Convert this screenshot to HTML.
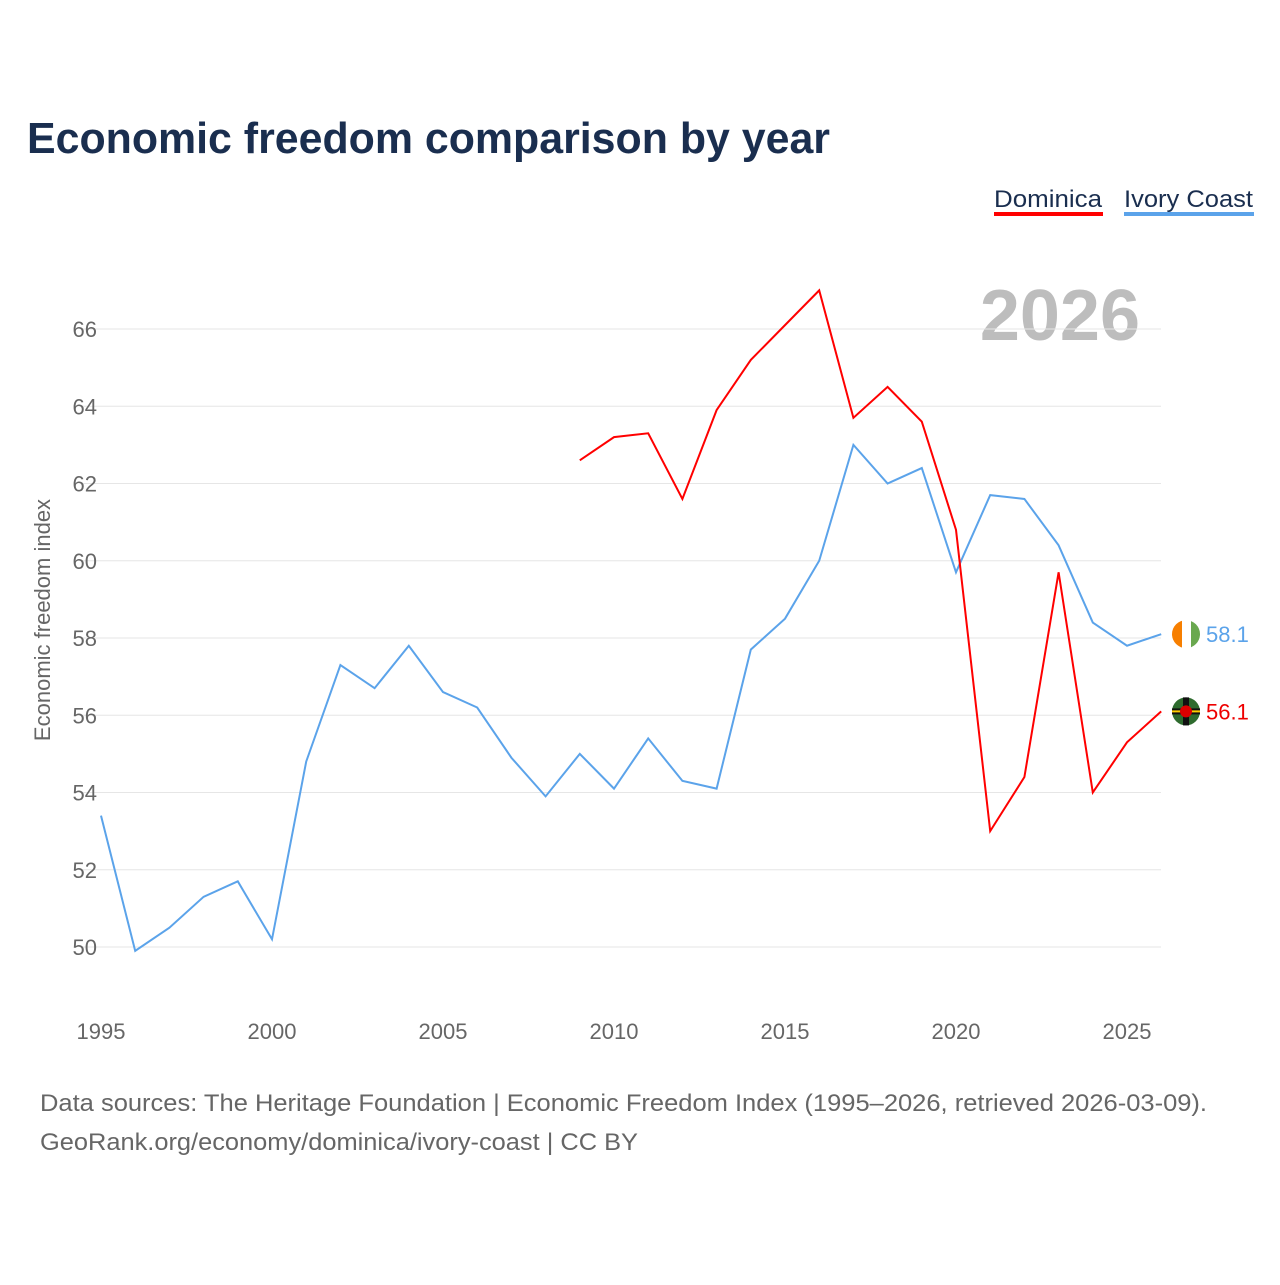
<!DOCTYPE html>
<html><head><meta charset="utf-8"><style>
body{margin:0;background:#fff;font-family:"Liberation Sans",sans-serif}
</style></head><body>
<svg width="1280" height="1280" viewBox="0 0 1280 1280" xmlns="http://www.w3.org/2000/svg">
<text x="27" y="153" font-size="44" font-weight="bold" fill="#1a2e4f" textLength="803" lengthAdjust="spacingAndGlyphs">Economic freedom comparison by year</text>
<g>
<text x="994" y="207" font-size="24" fill="#1a2e4f" textLength="108" lengthAdjust="spacingAndGlyphs">Dominica</text>
<rect x="994" y="212" width="109" height="4" fill="#f00"/>
<text x="1124" y="207" font-size="24" fill="#1a2e4f" textLength="129" lengthAdjust="spacingAndGlyphs">Ivory Coast</text>
<rect x="1124" y="212" width="130" height="4" fill="#5ba3ea"/>
</g>
<text x="1140" y="340" font-size="72" font-weight="bold" fill="#bdbdbd" text-anchor="end">2026</text>
<text transform="translate(50,620) rotate(-90)" font-size="22" fill="#666" text-anchor="middle">Economic freedom index</text>
<g id="grid"></g><g id="lines"></g>
<text x="40" y="1111" font-size="24" fill="#666" textLength="1167" lengthAdjust="spacingAndGlyphs">Data sources: The Heritage Foundation | Economic Freedom Index (1995–2026, retrieved 2026-03-09).</text>
<text x="40" y="1150" font-size="24" fill="#666" textLength="598" lengthAdjust="spacingAndGlyphs">GeoRank.org/economy/dominica/ivory-coast | CC BY</text>
</svg>
<script>
const years=[1995,1996,1997,1998,1999,2000,2001,2002,2003,2004,2005,2006,2007,2008,2009,2010,2011,2012,2013,2014,2015,2016,2017,2018,2019,2020,2021,2022,2023,2024,2025,2026];
const ivoryCoast=[53.4,49.9,50.5,51.3,51.7,50.2,54.8,57.3,56.7,57.8,56.6,56.2,54.9,53.9,55.0,54.1,55.4,54.3,54.1,57.7,58.5,60.0,63.0,62.0,62.4,59.7,61.7,61.6,60.4,58.4,57.8,58.1];
const dominicaYears=[2009,2010,2011,2012,2013,2014,2015,2016,2017,2018,2019,2020,2021,2022,2023,2024,2025,2026];
const dominica=[62.6,63.2,63.3,61.6,63.9,65.2,66.1,67.0,63.7,64.5,63.6,60.8,53.0,54.4,59.7,54.0,55.3,56.1];
const yTicks=[50,52,54,56,58,60,62,64,66];
const xTicks=[1995,2000,2005,2010,2015,2020,2025];
const NS="http://www.w3.org/2000/svg";
const X=y=>101+(y-1995)*(1127-101)/30;
const Y=v=>947-(v-50)*(947-329)/16;
function mk(t,a,p){const e=document.createElementNS(NS,t);for(const k in a)e.setAttribute(k,a[k]);p.appendChild(e);return e;}
const g=document.getElementById('grid'),l=document.getElementById('lines');
yTicks.forEach(v=>{
 const ln=mk('line',{x1:83,x2:1161,y1:Y(v),y2:Y(v),stroke:'#e6e6e6','stroke-width':1},g);
 
 
 const t=mk('text',{x:97,y:Y(v)+8,'font-size':22,fill:'#666','text-anchor':'end'},g);t.textContent=v;
 
 
});
xTicks.forEach(v=>{
 const t=mk('text',{x:X(v),y:1039,'font-size':22,fill:'#666','text-anchor':'middle'},g);t.textContent=v;
 
 
});
const p1=mk('polyline',{points:years.map((y,i)=>X(y)+','+Y(ivoryCoast[i])).join(' '),fill:'none',stroke:'#5ba3ea','stroke-width':2},l);


const p2=mk('polyline',{points:dominicaYears.map((y,i)=>X(y)+','+Y(dominica[i])).join(' '),fill:'none',stroke:'#f00','stroke-width':2},l);


const lastI=ivoryCoast[ivoryCoast.length-1],lastD=dominica[dominica.length-1];
const fi=mk('g',{},l);


mk('clipPath',{id:'c1'},fi).appendChild(document.createElementNS(NS,'circle')).setAttribute('r','14');
const fig=mk('g',{transform:`translate(1186,${Y(lastI)})`},fi);
const cp=document.getElementById('c1').firstChild;cp.setAttribute('cx',0);cp.setAttribute('cy',0);
fig.setAttribute('clip-path','url(#c1)');
mk('rect',{x:-14,y:-14,width:10,height:28,fill:'#f77f00'},fig);
mk('rect',{x:-4,y:-14,width:9,height:28,fill:'#fff'},fig);
mk('rect',{x:5,y:-14,width:10,height:28,fill:'#6aa84f'},fig);
const ti=mk('text',{x:1206,y:Y(lastI)+8,'font-size':22,fill:'#5ba3ea'},l);ti.textContent=lastI.toFixed(1);


const fd=mk('g',{transform:`translate(1186,${Y(lastD)})`},l);


mk('circle',{r:14,fill:'#2e6b2e'},fd);
mk('rect',{x:-14,y:-3,width:28,height:6,fill:'#111'},fd);
mk('rect',{x:-3,y:-14,width:6,height:28,fill:'#111'},fd);
mk('rect',{x:-14,y:-1,width:28,height:2,fill:'#fc0'},fd);
mk('circle',{r:6,fill:'#d00'},fd);
const td=mk('text',{x:1206,y:Y(lastD)+8,'font-size':22,fill:'#e00'},l);td.textContent=lastD.toFixed(1);


</script>
</body></html>
